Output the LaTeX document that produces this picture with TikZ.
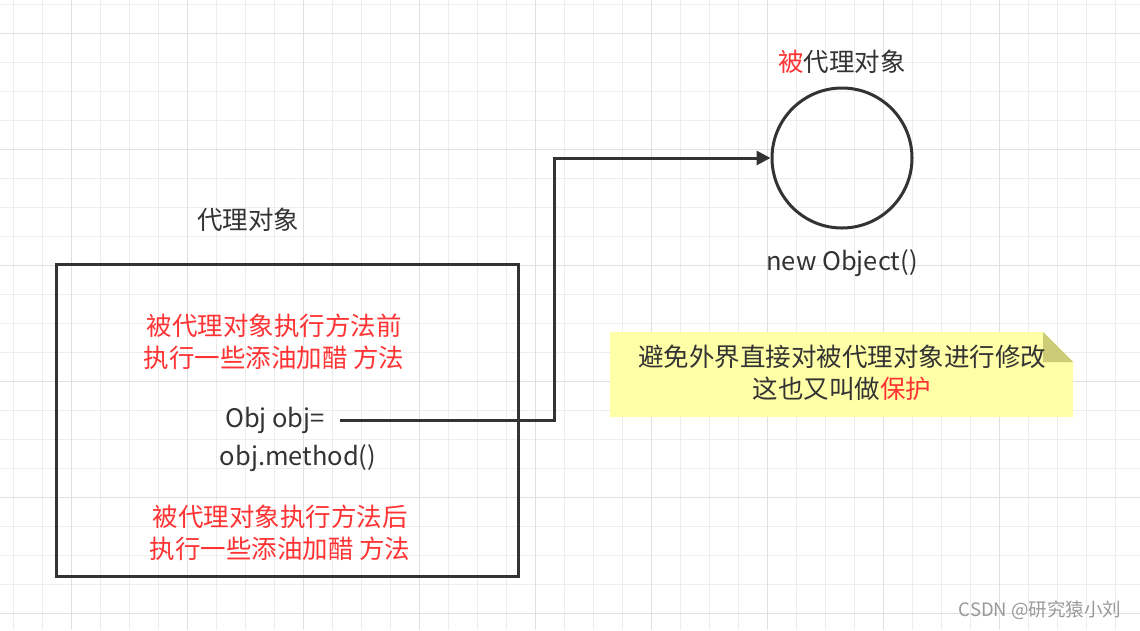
\documentclass[tikz,border=0pt]{standalone}
\usepackage{fontspec}
\setmainfont{Noto Sans CJK SC}
\usetikzlibrary{arrows.meta}
\definecolor{ink}{HTML}{333333}
\definecolor{rd}{HTML}{FF3333}
\definecolor{minorg}{HTML}{EDEDED}
\definecolor{majorg}{HTML}{E0E0E0}
\definecolor{notey}{HTML}{FFFFA8}
\definecolor{notef}{HTML}{CCCC77}
\tikzset{lbl/.style={font=\fontsize{25.5}{32}\selectfont, text=ink, inner sep=0pt, align=center},
  thickline/.style={line width=3pt, draw=ink}}
\begin{document}
\begin{tikzpicture}[x=1pt,y=-1pt]
\useasboundingbox (0,0) rectangle (1140,630);
\fill[white] (0,0) rectangle (1140,630);
\foreach \i in {0,...,39} {\draw[minorg, line width=1pt] ({13+29*\i},0) -- ({13+29*\i},630);}
\foreach \i in {0,...,21} {\draw[minorg, line width=1pt] (0,{4+29*\i}) -- (1140,{4+29*\i});}
\foreach \i in {0,...,9} {\draw[majorg, line width=1pt] ({-45+116*\i},0) -- ({-45+116*\i},630);}
\foreach \i in {0,...,5} {\draw[majorg, line width=1pt] (0,{33+116*\i}) -- (1140,{33+116*\i});}
% proxy box
\node[thickline, draw, minimum width=462pt, minimum height=312pt, inner sep=0pt] (box) at (287,420) {};
\node[lbl] (t1) at (248,220) {代理对象};
\node[lbl, text=rd] (r1) at (274,342) {被代理对象执行方法前\\执行一些添油加醋 方法};
\node[lbl] (c1) at (275,420) {Obj obj=};
\node[lbl] (c2) at (298,458) {obj.method()};
\node[lbl, text=rd] (r2) at (280,533) {被代理对象执行方法后\\执行一些添油加醋 方法};
% target
\node[circle, thickline, draw, minimum size=140pt, inner sep=0pt] (obj) at (842,158) {};
\node[lbl] (t2) at (842,62) {\textcolor{rd}{被}代理对象};
\node[lbl] (t3) at (842,263) {new Object()};
\coordinate (start) at (340,420);
\draw[thickline, -{Triangle[length=14pt,width=14pt]}] (start) -- (554,420) -- (554,158) -- (obj.west);
% note
\fill[notey] (610,332) -- (1043,332) -- (1073,362) -- (1073,417) -- (610,417) -- cycle;
\fill[notef] (1043,332) -- (1073,362) -- (1043,362) -- cycle;
\node[lbl] (note) at (842,373) {避免外界直接对被代理对象进行修改\\这也又叫做\textcolor{rd}{保护}};
\node[font=\fontsize{18.5}{20}\selectfont, text=black!40, inner sep=0pt] (wm) at (1040,610) {CSDN @研究猿小刘};
\end{tikzpicture}
\end{document}
